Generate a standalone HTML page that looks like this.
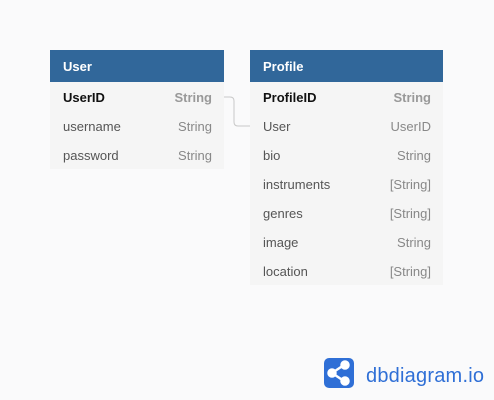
<!DOCTYPE html>
<html><head><style>
body{margin:0;width:494px;height:400px;background:#fafafb;font-family:"Liberation Sans",sans-serif;position:relative;overflow:hidden}
.t{position:absolute;background:#f5f5f5}
.h{background:#31679a;color:#fff;font-weight:bold;font-size:13px;height:32px;line-height:34px;padding-left:13px}
.r{height:29px;line-height:31px;font-size:13px;color:#555;padding:0 12px 0 13px;display:flex;justify-content:space-between}
.r span:last-child{color:#888}
.r.b span:first-child{color:#111;font-weight:bold}
.r.b span:last-child{font-weight:bold;color:#999}
</style></head><body>
<div class="t" style="left:50px;top:50px;width:174px">
<div class="h">User</div>
<div class="r b"><span>UserID</span><span>String</span></div>
<div class="r"><span>username</span><span>String</span></div>
<div class="r"><span>password</span><span>String</span></div>
</div>
<div class="t" style="left:250px;top:50px;width:193px">
<div class="h">Profile</div>
<div class="r b"><span>ProfileID</span><span>String</span></div>
<div class="r"><span>User</span><span>UserID</span></div>
<div class="r"><span>bio</span><span>String</span></div>
<div class="r"><span>instruments</span><span>[String]</span></div>
<div class="r"><span>genres</span><span>[String]</span></div>
<div class="r"><span>image</span><span>String</span></div>
<div class="r"><span>location</span><span>[String]</span></div>
</div>
<svg style="position:absolute;left:0;top:0" width="494" height="400">
<path d="M224 97 H230 Q234 97 234 101 V122 Q234 126 238 126 H250" fill="none" stroke="#c8c8c8" stroke-width="1"/>
<rect x="324" y="358" width="30" height="30" rx="5" fill="#2f6fd6"/>
<g stroke="#fff" stroke-width="2.5" fill="#fff">
<line x1="332" y1="373" x2="344" y2="365"/><line x1="332" y1="373" x2="344" y2="381"/>
<circle cx="332" cy="373" r="3.5"/><circle cx="345" cy="365" r="3.5"/><circle cx="345" cy="381" r="3.5"/>
</g>
<text x="366" y="382" font-family="Liberation Sans,sans-serif" font-size="20" textLength="118" fill="#2f6fd6">dbdiagram.io</text>
</svg>
</body></html>
